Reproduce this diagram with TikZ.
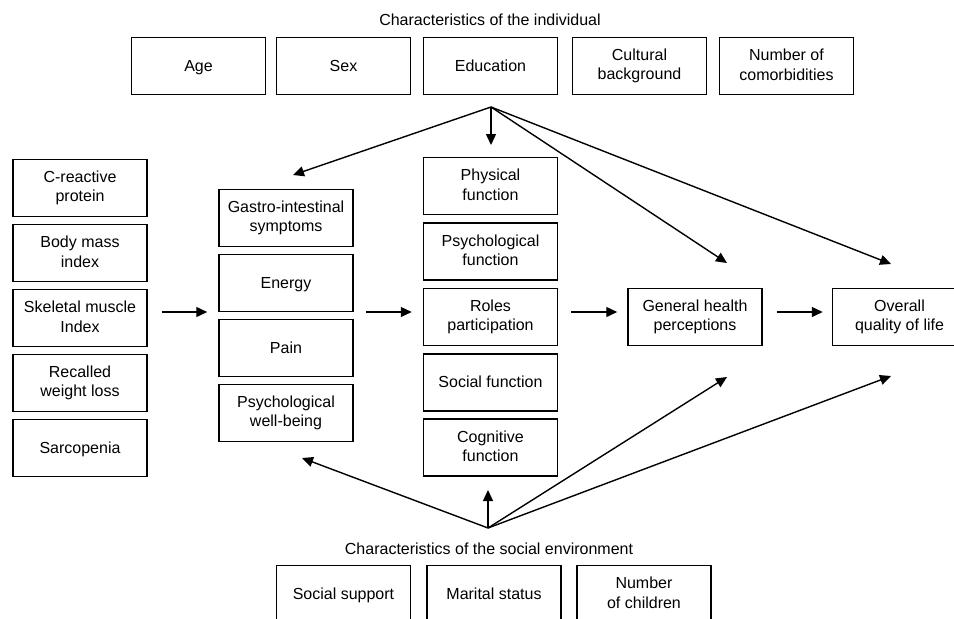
\documentclass[tikz,border=0pt]{standalone}
\usepackage{fontspec}
\setmainfont{Liberation Sans}
\usetikzlibrary{arrows.meta,calc}
\newcommand\boxstrut{\rule[-3pt]{0pt}{16.5pt}}
\begin{document}
\begin{tikzpicture}[x=1pt,y=-1pt,
  box/.style={draw, line width=1.5pt, minimum width=134pt, minimum height=57pt, inner sep=0pt, align=center, font=\fontsize{16}{19.5}\selectfont, execute at begin node=\boxstrut, execute at end node=\boxstrut},
  lbl/.style={font=\fontsize{16}{19.5}\selectfont, inner sep=0pt},
  arr/.style={line width=1.4pt, -{Triangle[length=11pt,width=10pt]}}]
\useasboundingbox (0,0) rectangle (954,619);
\clip (0,0) rectangle (954,619);
\fill[white] (0,0) rectangle (954,619);

% top: characteristics of the individual
\node[lbl] (tind) at (490,20) {Characteristics of the individual};
\node[box] (age) at (198.5,66) {Age};
\node[box] (sex) at (343.5,66) {Sex};
\node[box] (edu) at (490.5,66) {Education};
\node[box] (cult) at (639.5,66) {Cultural\\background};
\node[box] (ncom) at (786.5,66) {Number of\\comorbidities};

% left column
\node[box] (crp) at (80,188) {C-reactive\\protein};
\node[box] (bmi) at (80,253) {Body mass\\index};
\node[box] (smi) at (80,318) {Skeletal muscle\\Index};
\node[box] (rwl) at (80,383) {Recalled\\weight loss};
\node[box] (sarc) at (80,448) {Sarcopenia};

% symptoms column
\node[box] (gis) at (286,218) {Gastro-intestinal\\symptoms};
\node[box] (ene) at (286,283) {Energy};
\node[box] (pain) at (286,348) {Pain};
\node[box] (pwb) at (286,413) {Psychological\\well-being};

% functioning column
\node[box] (phf) at (490.5,186) {Physical\\function};
\node[box] (psf) at (490.5,251.5) {Psychological\\function};
\node[box] (rol) at (490.5,317) {Roles\\participation};
\node[box] (scf) at (490.5,382.5) {Social function};
\node[box] (cof) at (490.5,447.5) {Cognitive\\function};

% outcomes
\node[box] (ghp) at (695,317) {General health\\perceptions};
\node[box] (oql) at (899.5,317) {Overall\\quality of life};

% bottom: social environment
\node[lbl] (tsoc) at (489,549) {Characteristics of the social environment};
\node[box] (ssup) at (343.5,594) {Social support};
\node[box] (mar) at (494,594) {Marital status};
\node[box] (nchi) at (644,594) {Number\\of children};

% fan points and free arrow ends
\coordinate (ftop) at (491,107);
\coordinate (fbot) at (488,528);
\coordinate (tgis) at (293,175);
\coordinate (tphf) at (491,145);
\coordinate (tghpA) at (727,263);
\coordinate (toqlA) at (891,264);
\coordinate (tpwb) at (302,458);
\coordinate (tcof) at (488,490);
\coordinate (tghpB) at (727,377);
\coordinate (toqlB) at (891,376);

\draw[arr] (ftop) -- (tgis);
\draw[arr] (ftop) -- (tphf);
\draw[arr] (ftop) -- (tghpA);
\draw[arr] (ftop) -- (toqlA);

\draw[arr] (fbot) -- (tpwb);
\draw[arr] (fbot) -- (tcof);
\draw[arr] (fbot) -- (tghpB);
\draw[arr] (fbot) -- (toqlB);

% horizontal arrows
\draw[arr] ($(smi.east)+(14,-6)$) -- ($(gis.west |- smi.east)+(-11,-6)$);
\draw[arr] ($(gis.east |- rol.east)+(12,-5)$) -- ($(rol.west)+(-11,-5)$);
\draw[arr] ($(rol.east)+(13,-5)$) -- ($(ghp.west)+(-10,-5)$);
\draw[arr] ($(ghp.east)+(14,-5)$) -- ($(oql.west)+(-9,-5)$);
\end{tikzpicture}
\end{document}
